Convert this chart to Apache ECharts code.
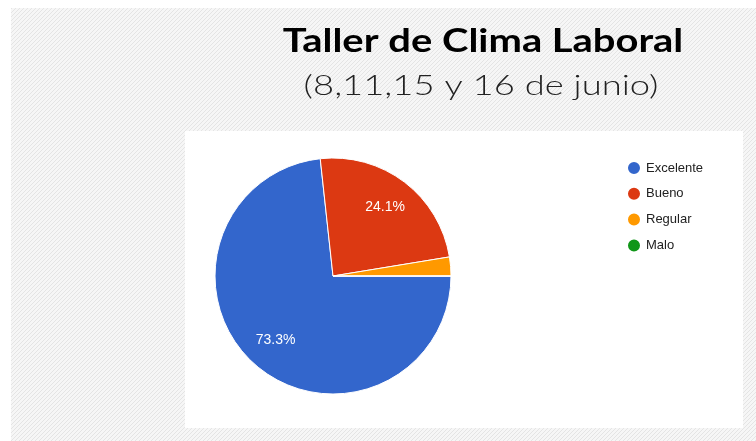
<!DOCTYPE html>
<html>
<head>
<meta charset="utf-8">
<script src="https://cdn.jsdelivr.net/npm/echarts@6/dist/echarts.min.js"></script>
<style>
  html, body { margin: 0; padding: 0; background: #fff; }
  #chart1 { width: 756px; height: 441px; }
</style>
</head>
<body>
<div id="chart1"></div>
<script>
// data
var categories = ['Excelente', 'Bueno', 'Regular', 'Malo'];
var counts = [85, 28, 3, 0];
var colors = ['#3366cc', '#dc3912', '#ff9900', '#109618'];
var titleText = 'Taller de Clima Laboral';
var subtitleText = '(8,11,15 y 16 de junio)';

// hatched slide background
function makeHatch() {
  var c = document.createElement('canvas');
  c.width = 4;
  c.height = 4;
  var ctx = c.getContext('2d');
  ctx.fillStyle = '#f6f6f6';
  ctx.fillRect(0, 0, 4, 4);
  ctx.strokeStyle = '#e4e4e4';
  ctx.lineWidth = 1;
  ctx.beginPath();
  ctx.moveTo(0, 4); ctx.lineTo(4, 0);
  ctx.moveTo(-1, 1); ctx.lineTo(1, -1);
  ctx.moveTo(3, 5); ctx.lineTo(5, 3);
  ctx.stroke();
  return c;
}

var chartDom = document.getElementById('chart1');
var myChart = echarts.init(chartDom);
var option;

var pieData = categories.map(function (name, i) {
  return { value: counts[i], name: name };
});

option = {
  animation: false,
  backgroundColor: '#ffffff',
  color: colors,
  graphic: [
    {
      type: 'rect',
      z: -10,
      shape: { x: 11, y: 8, width: 745, height: 433 },
      style: { fill: { image: makeHatch(), repeat: 'repeat' } },
      silent: true
    },
    {
      type: 'rect',
      z: -9,
      shape: { x: 185, y: 131, width: 558, height: 297 },
      style: { fill: '#ffffff' },
      silent: true
    },
    {
      // Century Gothic isn't installed, so widen Lato a bit
      type: 'text',
      x: 483,
      y: 41,
      scaleX: 1.21,
      style: {
        text: titleText,
        fill: '#000',
        font: 'bold 33px Lato, "Open Sans", sans-serif',
        align: 'center',
        verticalAlign: 'middle'
      }
    },
    {
      type: 'text',
      x: 481,
      y: 86,
      scaleX: 1.3,
      style: {
        text: subtitleText,
        fill: '#222',
        font: '300 28px Lato, "Open Sans", sans-serif',
        align: 'center',
        verticalAlign: 'middle'
      }
    }
  ],
  legend: {
    orient: 'vertical',
    left: 621,
    top: 155,
    icon: 'circle',
    itemWidth: 14,
    itemHeight: 14,
    itemGap: 9.8,
    data: categories,
    textStyle: {
      fontFamily: 'Arial, "Liberation Sans", sans-serif',
      fontSize: 13,
      color: '#222'
    }
  },
  series: [
    {
      type: 'pie',
      center: [333, 276],
      radius: [0, 118],
      startAngle: 0,
      clockwise: true,
      percentPrecision: 1,
      avoidLabelOverlap: false,
      itemStyle: {
        borderColor: '#fff',
        borderWidth: 1
      },
      label: { show: false },
      labelLine: { show: false },
      emphasis: { scale: false },
      data: pieData
    },
    {
      // transparent ring only used to place the percentage labels further out
      type: 'pie',
      center: [333, 276],
      radius: [0, 166],
      startAngle: 0,
      clockwise: true,
      percentPrecision: 1,
      silent: true,
      z: 5,
      itemStyle: { color: 'rgba(0,0,0,0)', borderWidth: 0 },
      label: {
        show: true,
        position: 'inside',
        color: '#fff',
        fontFamily: 'Arial, "Liberation Sans", sans-serif',
        fontSize: 14,
        formatter: function (p) {
          return p.percent < 5 ? '' : p.percent.toFixed(1) + '%';
        }
      },
      labelLine: { show: false },
      data: pieData
    }
  ]
};

option && myChart.setOption(option);
</script>
</body>
</html>
